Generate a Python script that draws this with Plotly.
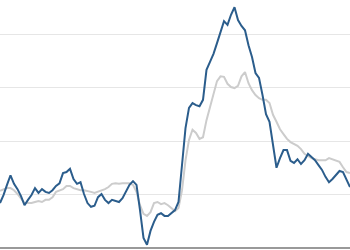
import plotly.graph_objects as go

period = list(range(101))

series_main = [8.4, 9.9, 11.8, 13.6, 12.0, 11.0, 9.7, 8.0, 9.0, 9.9,
               11.2, 10.3, 11.0, 10.5, 10.3, 10.8, 11.6, 12.1, 14.0, 14.2,
               14.8, 12.9, 12.0, 12.3, 10.1, 8.4, 7.7, 7.9, 9.5, 10.1,
               9.0, 8.4, 9.0, 8.8, 8.6, 9.3, 10.7, 11.8, 12.5, 11.8,
               7.1, 1.9, 0.6, 3.2, 4.9, 6.2, 6.5, 6.0, 6.0, 6.5,
               7.1, 8.6, 15.1, 22.4, 26.2, 27.1, 26.7, 26.5, 27.7, 33.3,
               34.8, 36.3, 38.3, 40.6, 42.4, 41.7, 43.6, 45.0, 42.6, 41.5,
               40.7, 37.9, 35.7, 32.7, 31.8, 28.6, 25.0, 23.6, 19.6, 15.0,
               16.8, 18.3, 18.3, 16.3, 15.9, 16.6, 15.7, 16.4, 17.6, 17.0,
               16.4, 15.5, 14.6, 13.3, 12.3, 12.9, 13.6, 14.4, 14.2, 12.9,
               11.4]

series_ref = [10.7, 11.0, 11.2, 11.2, 10.8, 10.1, 9.2, 8.4, 8.4, 8.4,
              8.6, 8.8, 8.6, 9.0, 9.0, 9.5, 10.5, 10.7, 11.0, 11.6,
              11.6, 11.2, 11.0, 10.8, 10.8, 10.7, 10.5, 10.3, 10.5, 10.7,
              11.0, 11.4, 12.0, 12.1, 12.0, 12.1, 12.1, 12.1, 11.8, 10.5,
              8.0, 6.4, 6.0, 6.7, 8.4, 8.6, 8.2, 8.4, 8.0, 7.5,
              6.9, 7.5, 10.8, 16.4, 20.2, 22.1, 21.5, 20.4, 20.7, 23.9,
              26.4, 29.0, 31.2, 32.1, 32.0, 30.7, 30.1, 29.9, 30.3, 32.1,
              32.9, 30.8, 29.5, 28.6, 28.0, 27.7, 27.7, 27.1, 24.9, 23.6,
              22.2, 21.3, 20.4, 19.8, 19.4, 19.1, 18.5, 17.6, 17.2, 16.8,
              16.6, 16.4, 16.4, 16.4, 16.8, 16.6, 16.4, 16.1, 15.1, 14.2,
              14.0]

fig = go.Figure()
fig.add_trace(go.Scatter(x=period, y=series_ref, mode="lines",
                         line=dict(color="#cccccc", width=2), showlegend=False))
fig.add_trace(go.Scatter(x=period, y=series_main, mode="lines",
                         line=dict(color="#2b5d8c", width=2), showlegend=False))

fig.update_layout(
    width=350, height=250,
    margin=dict(l=0, r=0, t=0, b=0),
    paper_bgcolor="white", plot_bgcolor="white",
    xaxis=dict(range=[0, 100], showgrid=False, zeroline=False,
               showticklabels=False, showline=False),
    yaxis=dict(range=[-0.37, 46.36], dtick=10, showgrid=True,
               gridcolor="#e6e6e6", gridwidth=1,
               zeroline=True, zerolinecolor="#999999", zerolinewidth=2,
               showticklabels=False, showline=False),
)

fig.write_html("out.html")
